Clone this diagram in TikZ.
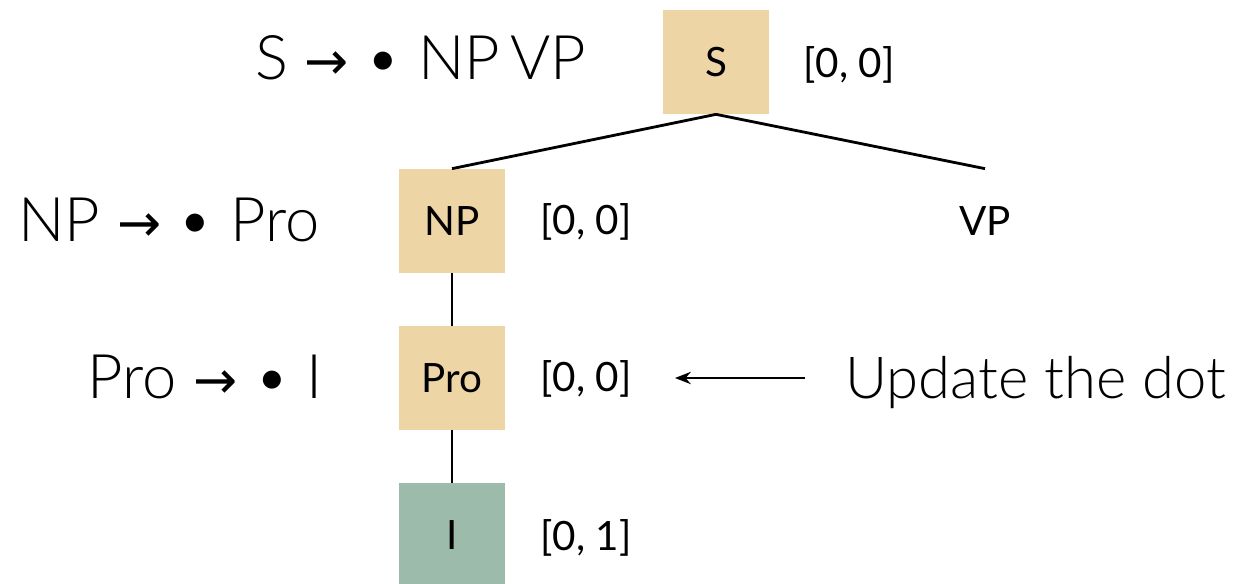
\documentclass[tikz,border=0pt]{standalone}
\usepackage{fontspec}
\setmainfont{Lato}
\newfontfamily\lightfont{Lato Light}
\newfontfamily\arrowfont{DejaVu Sans}
\newcommand{\ruleto}{{\arrowfont\fontsize{30}{36}\selectfont →}}
\usetikzlibrary{arrows.meta, positioning}
\definecolor{tan}{HTML}{EED5A5}
\definecolor{sage}{HTML}{9CBBAB}

\begin{document}
\begin{tikzpicture}[x=0.02cm, y=-0.02cm, >={Stealth[length=9pt, width=7pt]},
    cat/.style={minimum width=2.12cm, minimum height=2.08cm, inner sep=0pt, font=\fontsize{23}{26}\selectfont},
    span/.style={anchor=base west, inner sep=0pt, font=\fontsize{23}{26}\selectfont},
    rule/.style={anchor=base west, inner sep=0pt, font=\lightfont\fontsize{35}{40}\selectfont}]
    \useasboundingbox (0,0) rectangle (1236,584);

    % tree nodes
    \node (s) at (716,62) [cat, fill=tan] {S};
    \node (np) at (452,221) [cat, fill=tan] {NP};
    \node (vp) at (985,221) [cat] {VP};
    \node (pro) at (452,378) [cat, fill=tan] {Pro};
    \node (i) at (452,535) [cat, fill=sage] {I};

    \draw [line width=1.6pt] (s.south) -- (np.north);
    \draw [line width=1.6pt] (s.south) -- (vp.north);
    \draw [line width=1.1pt] (np) -- (pro);
    \draw [line width=1.1pt] (pro) -- (i);

    % spans
    \node (s_span) at (803,78) [span] {[0, 0]};
    \node (np_span) at (540,235) [span] {[0, 0]};
    \node (pro_span) at (540,391) [span] {[0, 0]};
    \node (i_span) at (540,550) [span] {[0, 1]};

    % dotted rules
    \node (s_rule) at (255,80) [rule] {S \ruleto\ \textbullet\ NP\,VP};
    \node (np_rule) at (18,241) [rule] {NP \ruleto\ \textbullet\ Pro};
    \node (pro_rule) at (87,398) [rule] {Pro \ruleto\ \textbullet\ I};

    \node (note) at (1226,398) [rule, anchor=base east, font=\lightfont\fontsize{33}{38}\selectfont] {Update the dot};
    \coordinate (note_end) at (675,378);
    \draw [->, line width=1.1pt] (note.west |- note_end) ++(-40,0) -- (note_end);
\end{tikzpicture}
\end{document}
